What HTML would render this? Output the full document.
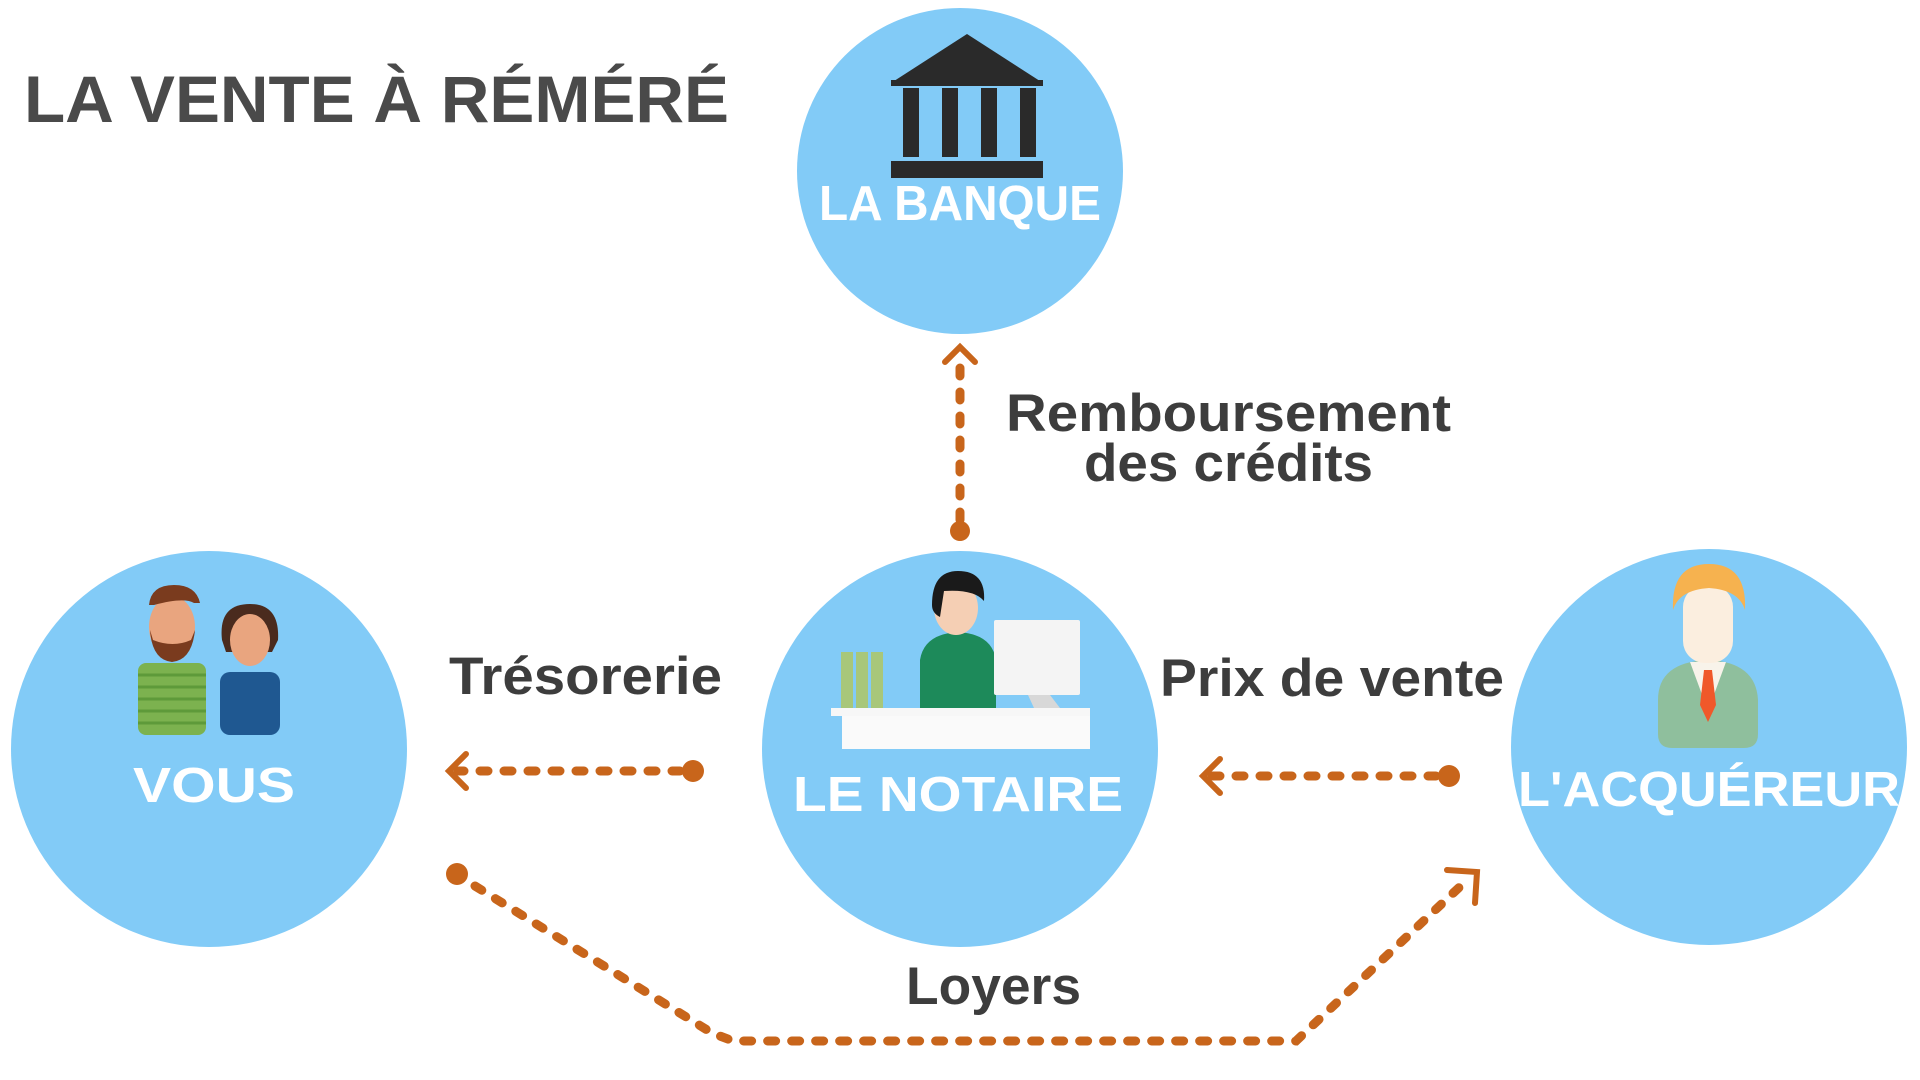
<!DOCTYPE html>
<html><head><meta charset="utf-8"><style>
html,body{margin:0;padding:0;background:#fff;width:1920px;height:1080px;overflow:hidden}
svg{display:block}
text{font-family:"Liberation Sans",sans-serif;font-weight:bold}
</style></head><body>
<svg width="1920" height="1080" viewBox="0 0 1920 1080" xmlns="http://www.w3.org/2000/svg">
<rect width="1920" height="1080" fill="#fff"/>
<text x="24" y="122" font-size="66" fill="#4a4a4a" textLength="705" lengthAdjust="spacingAndGlyphs">LA VENTE À RÉMÉRÉ</text>

<g fill="#82cbf7">
<circle cx="960" cy="171" r="163"/>
<circle cx="209" cy="749" r="198"/>
<circle cx="960" cy="749" r="198"/>
<circle cx="1709" cy="747" r="198"/>
</g>

<!-- bank -->
<g fill="#2a2a2a">
<polygon points="967,34 891,83 1043,83"/>
<rect x="891" y="80" width="152" height="6"/>
<rect x="903" y="88" width="16" height="69"/><rect x="942" y="88" width="16" height="69"/>
<rect x="981" y="88" width="16" height="69"/><rect x="1020" y="88" width="16" height="69"/>
<rect x="891" y="161" width="152" height="17"/>
</g>

<!-- people -->
<g>
<rect x="138" y="663" width="68" height="72" rx="8" fill="#7cb24f"/>
<g stroke="#5e9a3a" stroke-width="3"><line x1="138" y1="675" x2="206" y2="675"/><line x1="138" y1="687" x2="206" y2="687"/><line x1="138" y1="699" x2="206" y2="699"/><line x1="138" y1="711" x2="206" y2="711"/><line x1="138" y1="723" x2="206" y2="723"/></g>
<ellipse cx="172" cy="627" rx="23" ry="31" fill="#e9a57f"/>
<path d="M149,615 q0,-24 23,-22 q26,-4 28,18 l-2,20 q-4,30 -26,32 q-22,-2 -25,-32z" fill="none"/>
<path d="M149,605 q2,-20 25,-20 q22,0 26,18 l-6,0 q-10,-6 -40,2z" fill="#7a3b1e"/>
<path d="M150,630 q2,30 22,32 q20,-2 23,-32 l-4,10 q-18,8 -38,0z" fill="#7a3b1e"/>
<rect x="220" y="672" width="60" height="63" rx="10" fill="#1f5891"/>
<path d="M222,640 q-4,-36 28,-36 q30,0 28,36 l-6,12 -46,0z" fill="#4a2b1e"/>
<ellipse cx="250" cy="640" rx="20" ry="26" fill="#e9a57f"/>
</g>

<!-- notaire -->
<g>
<rect x="841" y="652" width="12" height="56" fill="#a8c77a"/><rect x="856" y="652" width="12" height="56" fill="#a8c77a"/><rect x="871" y="652" width="12" height="56" fill="#a8c77a"/>
<path d="M920,660 q4,-26 38,-28 q34,2 38,28 l0,50 -76,0z" fill="#1d8a5a"/>
<ellipse cx="956" cy="608" rx="22" ry="27" fill="#f5cfb4"/>
<path d="M932,605 q0,-34 26,-34 q28,0 26,30 q-10,-12 -40,-10 l-4,26 q-8,-4 -8,-12z" fill="#1a1a1a"/>
<rect x="994" y="620" width="86" height="75" rx="2" fill="#f4f4f4"/>
<polygon points="1028,695 1050,695 1060,708 1034,708" fill="#d8d8d8"/>
<rect x="831" y="708" width="259" height="8" fill="#f7f7f7"/>
<rect x="842" y="716" width="248" height="33" fill="#fafafa"/>
</g>

<!-- acquereur -->
<g>
<path d="M1658,700 q0,-38 50,-40 q48,2 50,40 l0,34 q0,14 -14,14 l-72,0 q-14,0 -14,-14z" fill="#8fbf9d"/>
<polygon points="1690,662 1726,662 1712,700 1704,700" fill="#f8f3ea"/>
<polygon points="1704,670 1712,670 1716,705 1708,722 1700,705" fill="#f0582a"/>
<rect x="1683" y="585" width="50" height="78" rx="22" fill="#fbeedf"/>
<path d="M1673,610 q-2,-46 36,-46 q38,0 36,46 q-6,-20 -36,-22 q-30,2 -36,22z" fill="#f6b24f"/>
</g>

<g fill="#fff" font-size="49" text-anchor="middle">
<text x="960" y="220" textLength="282" lengthAdjust="spacingAndGlyphs">LA BANQUE</text>
<text x="214" y="802" textLength="162" lengthAdjust="spacingAndGlyphs">VOUS</text>
<text x="958" y="811" textLength="330" lengthAdjust="spacingAndGlyphs">LE NOTAIRE</text>
<text x="1709" y="806" textLength="382" lengthAdjust="spacingAndGlyphs">L'ACQUÉREUR</text>
</g>

<g fill="#3d3d3d" font-size="53">
<text x="1006" y="431" textLength="445" lengthAdjust="spacingAndGlyphs">Remboursement</text>
<text x="1084" y="481" textLength="289" lengthAdjust="spacingAndGlyphs">des crédits</text>
<text x="449" y="694" textLength="273" lengthAdjust="spacingAndGlyphs">Trésorerie</text>
<text x="1160" y="696" textLength="344" lengthAdjust="spacingAndGlyphs">Prix de vente</text>
<text x="906" y="1004" textLength="175" lengthAdjust="spacingAndGlyphs">Loyers</text>
</g>

<g stroke="#c8651b" fill="none" stroke-width="9" stroke-linecap="round">
<path d="M960,520 L960,352" stroke-dasharray="8 16"/>
<path d="M945,362 L960,347 L975,362" stroke-width="6"/>
<path d="M680,771 L458,771" stroke-dasharray="8 16"/>
<path d="M466,754 L449,771 L466,788" stroke-width="6"/>
<path d="M1436,776 L1212,776" stroke-dasharray="8 16"/>
<path d="M1220,759 L1203,776 L1220,793" stroke-width="6"/>
<path d="M475,886 L712,1033 L733,1041 L1296,1041 L1466,881" stroke-dasharray="8 16"/>
<path d="M1447,870 L1477,872 L1475,903" stroke-width="6"/>
</g>
<g fill="#c8651b">
<circle cx="960" cy="531" r="10"/>
<circle cx="693" cy="771" r="11"/>
<circle cx="1449" cy="776" r="11"/>
<circle cx="457" cy="874" r="11"/>
</g>
</svg>
</body></html>
